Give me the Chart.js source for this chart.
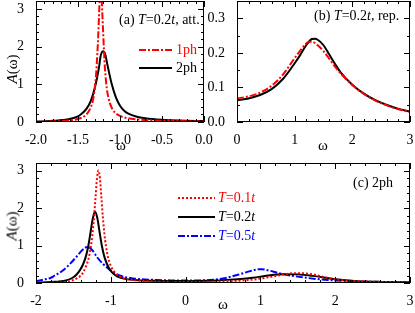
<!DOCTYPE html>
<html>
<head>
<meta charset="utf-8">
<script src="https://cdn.jsdelivr.net/npm/chart.js@4"></script>
<style>
  body { margin: 0; background: #fff; }
  #wrap { position: relative; width: 415px; height: 313px; overflow: hidden; font-family: "Liberation Serif", "Times New Roman", serif; }
  canvas { position: absolute; }
  .t { position: absolute; font-size: 14px; white-space: nowrap; transform: translateY(-50%); line-height: 1; }
  .c { transform: translate(-50%, -50%); }
  .rot { transform: translate(-50%, -50%) rotate(-90deg); }
</style>
</head>
<body>
<div id="wrap">
  <canvas id="ca" width="215" height="150" style="left:0;top:0"></canvas>
  <canvas id="cb" width="215" height="150" style="left:200px;top:0"></canvas>
  <canvas id="cc" width="415" height="163" style="left:0;top:150px"></canvas>

  <div class="t" style="left:119px;top:20px">(a) <i>T</i>=0.2<i>t</i>, att.</div>
  <div class="t" style="left:176px;top:50px;color:#f00">1ph</div>
  <div class="t" style="left:176px;top:68px">2ph</div>
  <div class="t" style="left:314px;top:16px">(b) <i>T</i>=0.2<i>t</i>, rep.</div>
  <div class="t" style="left:353px;top:183px">(c) 2ph</div>
  <div class="t" style="left:218px;top:198px;color:#f00"><i>T</i>=0.1<i>t</i></div>
  <div class="t" style="left:218px;top:217px"><i>T</i>=0.2<i>t</i></div>
  <div class="t" style="left:218px;top:236px;color:#00f"><i>T</i>=0.5<i>t</i></div>

  <div class="t rot" style="left:12px;top:69px;font-size:15px"><i>A</i>(ω)</div>
  <div class="t rot" style="left:12px;top:226px;font-size:15px"><i>A</i>(ω)</div>
  <div class="t c" style="left:121px;top:145px;font-size:15px">ω</div>
  <div class="t c" style="left:323px;top:145px;font-size:15px">ω</div>
  <div class="t c" style="left:223px;top:304px;font-size:15px">ω</div>
</div>
<script>
// ─── Data: panel (a) T=0.2t, attractive ───
const wA1 = [-2.0, -1.8, -1.6, -1.5, -1.45, -1.4, -1.35, -1.32, -1.3, -1.285, -1.27, -1.26, -1.25, -1.24, -1.23, -1.22, -1.21, -1.2, -1.19, -1.18, -1.165, -1.15, -1.12, -1.09, -1.06, -1.0, -0.9, -0.8, -0.6, -0.4, -0.2, 0.0];
const a1ph = [0.0, 0.015, 0.04, 0.08, 0.12, 0.2, 0.38, 0.6, 0.9, 1.25, 1.8, 2.25, 2.8, 3.35, 3.6, 3.35, 2.85, 2.35, 1.85, 1.45, 1.05, 0.78, 0.5, 0.34, 0.25, 0.16, 0.1, 0.07, 0.04, 0.03, 0.02, 0.015];
const wA2 = [-2.0, -1.8, -1.6, -1.5, -1.45, -1.4, -1.35, -1.3, -1.25, -1.23, -1.2, -1.18, -1.15, -1.1, -1.05, -1.0, -0.95, -0.9, -0.8, -0.7, -0.5, -0.3, 0.0];
const a2ph = [0.01, 0.03, 0.08, 0.15, 0.23, 0.35, 0.55, 0.9, 1.45, 1.76, 1.88, 1.83, 1.52, 1.02, 0.66, 0.43, 0.3, 0.22, 0.14, 0.1, 0.06, 0.04, 0.025];
const ticksAx = [-2, -1.5, -1, -0.5, 0];
const ticksAy = [0, 1, 2, 3];

// ─── Data: panel (b) T=0.2t, repulsive ───
const wB1 = [0, 0.2, 0.4, 0.6, 0.8, 1.0, 1.1, 1.2, 1.25, 1.3, 1.4, 1.5, 1.6, 1.7, 1.8, 2.0, 2.2, 2.4, 2.6, 2.8, 3.0];
const b1ph = [0.068, 0.074, 0.085, 0.105, 0.138, 0.185, 0.207, 0.227, 0.232, 0.232, 0.222, 0.205, 0.183, 0.16, 0.14, 0.107, 0.081, 0.062, 0.048, 0.037, 0.029];
const wB2 = [0, 0.2, 0.4, 0.6, 0.8, 1.0, 1.1, 1.2, 1.3, 1.35, 1.4, 1.5, 1.6, 1.7, 1.8, 2.0, 2.2, 2.4, 2.6, 2.8, 3.0];
const b2ph = [0.063, 0.068, 0.078, 0.095, 0.125, 0.17, 0.195, 0.222, 0.24, 0.241, 0.238, 0.222, 0.195, 0.168, 0.143, 0.108, 0.082, 0.063, 0.049, 0.038, 0.03];
const ticksBx = [0, 1, 2, 3];
const ticksBy = [0, 0.1, 0.2, 0.3];

// ─── Data: panel (c) 2ph, three temperatures ───
const wC1 = [-2, -1.8, -1.6, -1.5, -1.45, -1.4, -1.365, -1.325, -1.295, -1.265, -1.245, -1.225, -1.205, -1.185, -1.165, -1.145, -1.125, -1.105, -1.085, -1.065, -1.035, -1.005, -0.965, -0.915, -0.865, -0.75, -0.5, -0.2, 0.2, 0.6, 0.9, 1.1, 1.3, 1.45, 1.55, 1.7, 1.85, 2.0, 2.3, 2.6, 3.0];
const cT01 = [0.0, 0.01, 0.03, 0.08, 0.13, 0.2, 0.3, 0.48, 0.67, 0.99, 1.3, 1.73, 2.26, 2.78, 3.0, 2.78, 2.26, 1.73, 1.3, 0.99, 0.67, 0.48, 0.33, 0.22, 0.15, 0.09, 0.05, 0.03, 0.03, 0.05, 0.09, 0.15, 0.22, 0.26, 0.26, 0.23, 0.16, 0.1, 0.05, 0.03, 0.02];
const wC2 = [-2, -1.8, -1.6, -1.51, -1.46, -1.41, -1.37, -1.33, -1.3, -1.27, -1.24, -1.21, -1.18, -1.15, -1.12, -1.09, -1.05, -1.01, -0.96, -0.91, -0.81, -0.6, -0.3, 0.0, 0.3, 0.6, 0.9, 1.1, 1.3, 1.5, 1.7, 2.0, 2.3, 2.6, 3.0];
const cT02 = [0.01, 0.025, 0.07, 0.14, 0.22, 0.35, 0.5, 0.73, 1.0, 1.36, 1.73, 1.9, 1.73, 1.36, 1.0, 0.73, 0.5, 0.35, 0.24, 0.17, 0.11, 0.07, 0.055, 0.05, 0.06, 0.09, 0.14, 0.2, 0.235, 0.23, 0.19, 0.1, 0.05, 0.03, 0.02];
const wC3 = [-2, -1.9, -1.8, -1.75, -1.65, -1.55, -1.45, -1.38, -1.31, -1.25, -1.18, -1.1, -1.0, -0.88, -0.7, -0.5, -0.2, 0.2, 0.5, 0.7, 0.85, 0.95, 1.02, 1.1, 1.25, 1.4, 1.65, 1.9, 2.2, 2.6, 3.0];
const cT05 = [0.05, 0.09, 0.14, 0.2, 0.32, 0.5, 0.72, 0.88, 0.96, 0.88, 0.68, 0.5, 0.33, 0.2, 0.12, 0.09, 0.07, 0.07, 0.12, 0.22, 0.31, 0.36, 0.37, 0.34, 0.26, 0.2, 0.13, 0.08, 0.05, 0.03, 0.02];
const ticksCx = [-2, -1, 0, 1, 2, 3];
const ticksCy = [0, 1, 2, 3];

// ─── Helpers ───
Chart.defaults.font.family = 'Liberation Serif';
const FONT = { family: 'Liberation Serif', size: 14 };
const RED = '#ff0000', BLUE = '#0000ff', BLACK = '#000000';
const DASHDOT = [7, 2, 2, 2];
const DOT = [2, 2];

function pts(xs, ys) { return xs.map((x, i) => ({ x, y: ys[i] })); }

function series(xs, ys, color, dash, width = 2) {
    return { data: pts(xs, ys), borderColor: color, borderWidth: width, borderDash: dash || [],
             pointRadius: 0, fill: false, cubicInterpolationMode: 'monotone' };
}

// inward ticks on all four sides + frame + legend sample lines
const frameTicks = {
    id: 'frameTicks',
    afterDraw(chart, args, o) {
        const { ctx, chartArea: a, scales: { x, y } } = chart;
        ctx.save();
        ctx.strokeStyle = '#000';
        ctx.lineWidth = 1;
        ctx.setLineDash([]);
        ctx.strokeRect(a.left + 0.5, a.top + 0.5, a.right - a.left - 1, a.bottom - a.top - 1);
        const run = (scale, step, len, horiz) => {
            const n = Math.round((scale.max - scale.min) / step);
            ctx.beginPath();
            for (let i = 0; i <= n; i++) {
                const p = Math.round(scale.getPixelForValue(scale.min + i * step)) + 0.5;
                if (horiz) {
                    ctx.moveTo(p, a.bottom); ctx.lineTo(p, a.bottom - len);
                    ctx.moveTo(p, a.top); ctx.lineTo(p, a.top + len);
                } else {
                    ctx.moveTo(a.left, p); ctx.lineTo(a.left + len, p);
                    ctx.moveTo(a.right, p); ctx.lineTo(a.right - len, p);
                }
            }
            ctx.stroke();
        };
        run(x, o.xMinor, 3, true);
        run(x, o.xMajor, 6, true);
        run(y, o.yMinor, 3, false);
        run(y, o.yMajor, 6, false);
        (o.keys || []).forEach(k => {
            ctx.strokeStyle = k.color;
            ctx.lineWidth = 2;
            ctx.setLineDash(k.dash);
            ctx.beginPath();
            ctx.moveTo(k.x0, k.y); ctx.lineTo(k.x1, k.y);
            ctx.stroke();
        });
        ctx.restore();
    }
};

function makeChart(id, datasets, ax) {
    return new Chart(document.getElementById(id), {
        type: 'line',
        data: { datasets },
        options: {
            responsive: false, animation: false, devicePixelRatio: 1,
            layout: { padding: { top: ax.padTop, right: ax.padRight, left: 0, bottom: 0 } },
            plugins: { legend: { display: false }, tooltip: { enabled: false },
                       frameTicks: { xMajor: ax.xStep, xMinor: ax.xMinor, yMajor: ax.yStep, yMinor: ax.yMinor, keys: ax.keys } },
            scales: {
                x: { type: 'linear', min: ax.xMin, max: ax.xMax,
                     grid: { display: false }, border: { display: false },
                     ticks: { font: FONT, color: '#000', padding: 2, maxRotation: 0, autoSkip: false,
                              callback: v => v.toFixed(ax.xDec) },
                     afterBuildTicks: s => { s.ticks = ax.xTicks.map(v => ({ value: v })); },
                     afterFit: s => { s.height = ax.xH; s.paddingLeft = 0; s.paddingRight = 0; } },
                y: { min: ax.yMin, max: ax.yMax,
                     grid: { display: false }, border: { display: false },
                     ticks: { font: FONT, color: '#000', padding: 4, autoSkip: false,
                              callback: v => v.toFixed(ax.yDec) },
                     afterBuildTicks: s => { s.ticks = ax.yTicks.map(v => ({ value: v })); },
                     afterFit: s => { s.width = ax.yW; s.paddingTop = 0; s.paddingBottom = 0; } }
            }
        },
        plugins: [frameTicks]
    });
}

// ─── Panel (a) ───
makeChart('ca', [
    series(wA1, a1ph, RED, DASHDOT),
    series(wA2, a2ph, BLACK)
], { xMin: -2, xMax: 0, xTicks: ticksAx, xStep: 0.5, xMinor: 0.1, xDec: 1,
     yMin: 0, yMax: 3.21, yTicks: ticksAy, yStep: 1, yMinor: 0.2, yDec: 0,
     padTop: 1, padRight: 11, yW: 36, xH: 28,
     keys: [ { x0: 139, x1: 172, y: 50, color: RED, dash: DASHDOT },
             { x0: 139, x1: 172, y: 68, color: BLACK, dash: [] } ] });

// ─── Panel (b) ───
makeChart('cb', [
    series(wB1, b1ph, RED, DASHDOT),
    series(wB2, b2ph, BLACK)
], { xMin: 0, xMax: 3, xTicks: ticksBx, xStep: 1, xMinor: 0.2, xDec: 0,
     yMin: 0, yMax: 0.35, yTicks: ticksBy, yStep: 0.1, yMinor: 0.05, yDec: 1,
     padTop: 1, padRight: 5, yW: 37, xH: 28 });

// ─── Panel (c) ───
makeChart('cc', [
    series(wC1, cT01, RED, DOT),
    series(wC2, cT02, BLACK),
    series(wC3, cT05, BLUE, DASHDOT)
], { xMin: -2, xMax: 3, xTicks: ticksCx, xStep: 1, xMinor: 0.2, xDec: 0,
     yMin: 0, yMax: 3.2, yTicks: ticksCy, yStep: 1, yMinor: 0.2, yDec: 0,
     padTop: 13, padRight: 5, yW: 36, xH: 30,
     keys: [ { x0: 178, x1: 215, y: 48, color: RED, dash: DOT },
             { x0: 178, x1: 215, y: 67, color: BLACK, dash: [] },
             { x0: 178, x1: 215, y: 86, color: BLUE, dash: DASHDOT } ] });
</script>
</body>
</html>
